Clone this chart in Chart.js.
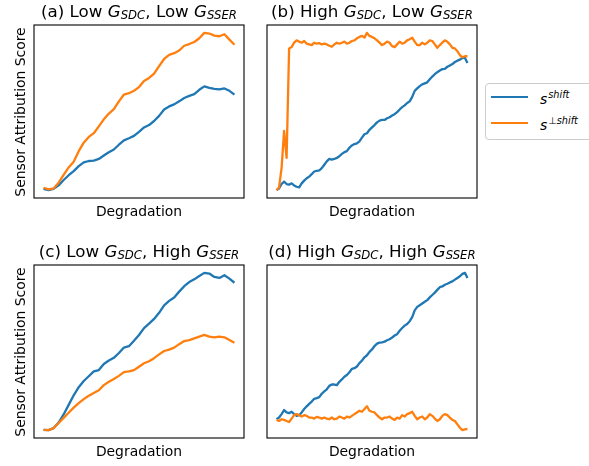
<!DOCTYPE html>
<html><head><meta charset="utf-8">
<script src="https://cdn.jsdelivr.net/npm/chart.js@4/dist/chart.umd.min.js"></script>
<style>
html,body{margin:0;padding:0;background:#fff;}
#fig{position:relative;width:589px;height:466px;overflow:hidden;background:#fff;font-family:"DejaVu Sans",sans-serif;color:#000;}
canvas{position:absolute;}
.title{position:absolute;text-align:center;white-space:nowrap;font-size:16.7px;line-height:20px;}
.xl{position:absolute;text-align:center;white-space:nowrap;font-size:13.9px;line-height:16px;}
.yl{position:absolute;width:220px;height:16px;line-height:16px;text-align:center;white-space:nowrap;font-size:13.9px;transform:rotate(-90deg);}
.it{font-style:italic;}
.sb{font-size:70%;font-style:italic;position:relative;top:0.15em;}
.sp{font-size:70%;font-style:italic;position:relative;top:-0.6em;margin-left:1px;}
#legend{position:absolute;left:485px;top:83px;width:140px;height:55px;border:1px solid #cccccc;border-radius:4px;background:rgba(255,255,255,0.8);}
.sw{position:absolute;left:5px;width:37px;height:2px;}
.lt{position:absolute;left:54px;font-size:13.9px;line-height:16px;white-space:nowrap;}
</style></head>
<body>
<div id="fig"></div>
<script>
// ---- data (score vs. degradation) ----
const panelLabels = ['(a)', '(b)', '(c)', '(d)'];
const sdcLevels = ['Low', 'High', 'Low', 'High'];
const sserLevels = ['Low', 'Low', 'High', 'High'];
const xAxisLabel = 'Degradation';
const yAxisLabel = 'Sensor Attribution Score';
const legendNames = ['shift', '\u22A5shift'];

const shiftA = [32,28,32,42,58,72,84,99,110,114,115,120,130,140,148,162,175,181,188,200,213,220,232,247,266,275,281,290,300,306,311,324,334,330,327,325,328,321,310];
const perpA  = [35,30,33,50,73,95,112,143,168,185,196,216,237,254,267,290,310,314,321,332,350,359,372,394,415,427,432,440,454,459,465,476,492,490,484,482,488,472,457];

const shiftB = [30,35,48,55,48,46,50,44,40,38,50,58,65,70,77,85,87,88,95,105,115,122,120,122,125,130,137,142,145,155,162,166,168,174,185,195,198,208,215,222,230,235,237,237,242,245,250,254,260,268,275,280,287,292,305,323,330,337,342,345,348,357,365,372,378,383,387,388,394,398,402,408,412,415,420,420,405];
const perpB  = [30,38,95,205,125,448,452,465,472,468,465,470,462,460,458,465,462,464,460,462,460,456,453,460,465,462,465,468,462,465,470,472,478,482,485,480,494,485,482,478,472,465,458,462,468,465,455,452,460,468,462,465,472,475,480,468,458,458,465,460,465,472,470,460,450,458,465,472,468,460,450,448,440,428,422,425,425];

const shiftC = [27,26,32,48,72,100,128,152,170,184,198,202,220,230,238,252,268,272,288,305,325,338,352,370,392,405,415,432,448,460,468,478,487,485,475,472,480,470,458];
const perpC  = [27,26,32,47,62,77,92,105,117,127,135,143,158,168,176,185,196,198,202,212,222,228,237,248,258,262,268,278,287,290,295,300,305,300,298,300,298,290,282];

const shiftD = [60,65,75,87,80,78,82,75,70,72,80,90,98,105,112,120,122,125,135,142,148,158,162,162,160,170,177,185,190,198,208,210,215,225,232,242,248,258,265,275,282,285,286,288,292,295,300,306,310,320,328,335,340,348,360,380,390,395,400,405,410,418,425,432,440,448,450,455,458,462,465,470,475,480,487,490,475];
const perpD  = [58,55,60,58,55,52,62,72,75,72,68,72,70,65,65,62,67,65,62,65,62,60,65,60,62,68,65,62,68,65,70,75,80,85,82,90,98,85,82,80,72,65,60,65,65,68,62,58,65,62,72,68,75,78,82,70,60,65,68,60,65,75,70,62,55,60,70,75,72,65,58,55,45,35,28,30,32];

// ---- styling / layout ----
const COLORS = { shift: '#1f77b4', perp: '#ff7f0e' };
const panels = [
  { box: [34, 25, 210, 173], shift: shiftA, perp: perpA, ylabel: true },
  { box: [267, 25, 210, 173], shift: shiftB, perp: perpB, ylabel: false },
  { box: [34, 265, 210, 173], shift: shiftC, perp: perpC, ylabel: true },
  { box: [267, 265, 210, 173], shift: shiftD, perp: perpD, ylabel: false }
];

const fig = document.getElementById('fig');
const frame = {
  id: 'frame',
  afterDatasetsDraw(chart) {
    const { left, top, right, bottom } = chart.chartArea;
    const c = chart.ctx;
    c.save();
    c.strokeStyle = '#000';
    c.lineWidth = 1.1;
    c.strokeRect(left, top, right - left, bottom - top);
    c.restore();
  }
};

function el(tag, cls, html, style) {
  const e = document.createElement(tag);
  if (cls) e.className = cls;
  if (html !== undefined) e.innerHTML = html;
  Object.assign(e.style, style || {});
  fig.appendChild(e);
  return e;
}

const charts = [];
panels.forEach((p, k) => {
  const [bx, by, bw, bh] = p.box;
  const M = 6;
  const cv = document.createElement('canvas');
  cv.width = bw + 2 * M; cv.height = bh + 2 * M;
  cv.style.width = cv.width + 'px'; cv.style.height = cv.height + 'px';
  cv.style.left = (bx - M) + 'px'; cv.style.top = (by - M) + 'px';
  fig.appendChild(cv);
  const n = p.shift.length;
  const toPts = arr => arr.map((v, i) => ({ x: i / (n - 1), y: v }));
  const all = p.shift.concat(p.perp);
  const lo = Math.min(...all), hi = Math.max(...all), pad = (hi - lo) * 0.05;
  const common = { pointRadius: 0, borderWidth: 2.3, tension: 0, fill: false, borderJoinStyle: 'round', borderCapStyle: 'butt' };
  charts.push(new Chart(cv, {
    type: 'line',
    data: { datasets: [
      Object.assign({ label: legendNames[0], data: toPts(p.shift), borderColor: COLORS.shift, backgroundColor: COLORS.shift, order: 2 }, common),
      Object.assign({ label: legendNames[1], data: toPts(p.perp), borderColor: COLORS.perp, backgroundColor: COLORS.perp, order: 1 }, common)
    ] },
    options: {
      responsive: false, animation: false, events: [], devicePixelRatio: 1,
      layout: { padding: M },
      plugins: { legend: { display: false }, tooltip: { enabled: false } },
      scales: {
        x: { type: 'linear', display: false, min: -0.05, max: 1.05 },
        y: { type: 'linear', display: false, min: lo - pad, max: hi + pad }
      }
    },
    plugins: [frame]
  }));
  // title
  const t = panelLabels[k] + ' ' + sdcLevels[k] + ' <span class="it">G</span><span class="sb">SDC</span>, ' +
            sserLevels[k] + ' <span class="it">G</span><span class="sb">SSER</span>';
  el('div', 'title', t, { left: (bx - 40) + 'px', width: (bw + 80) + 'px', top: (by - 24) + 'px' });
  // x label
  el('div', 'xl', xAxisLabel, { left: bx + 'px', width: bw + 'px', top: (by + bh + 5) + 'px' });
  // y label
  if (p.ylabel) {
    el('div', 'yl', yAxisLabel, { left: (19.5 - 110) + 'px', top: (by + bh / 2 - 8) + 'px' });
  }
});

// legend built from the chart's datasets
const legend = el('div', '', undefined, {});
legend.id = 'legend';
const ds = charts[0].data.datasets;
const rowY = [13, 39];
ds.forEach((d, i) => {
  const sw = document.createElement('div');
  sw.className = 'sw';
  sw.style.top = (rowY[i] - 1) + 'px';
  sw.style.background = d.borderColor;
  legend.appendChild(sw);
  const lt = document.createElement('div');
  lt.className = 'lt';
  lt.style.top = (rowY[i] - 6) + 'px';
  lt.innerHTML = '<span class="it">s</span><span class="sp">' + d.label + '</span>';
  legend.appendChild(lt);
});
</script>
</body></html>
